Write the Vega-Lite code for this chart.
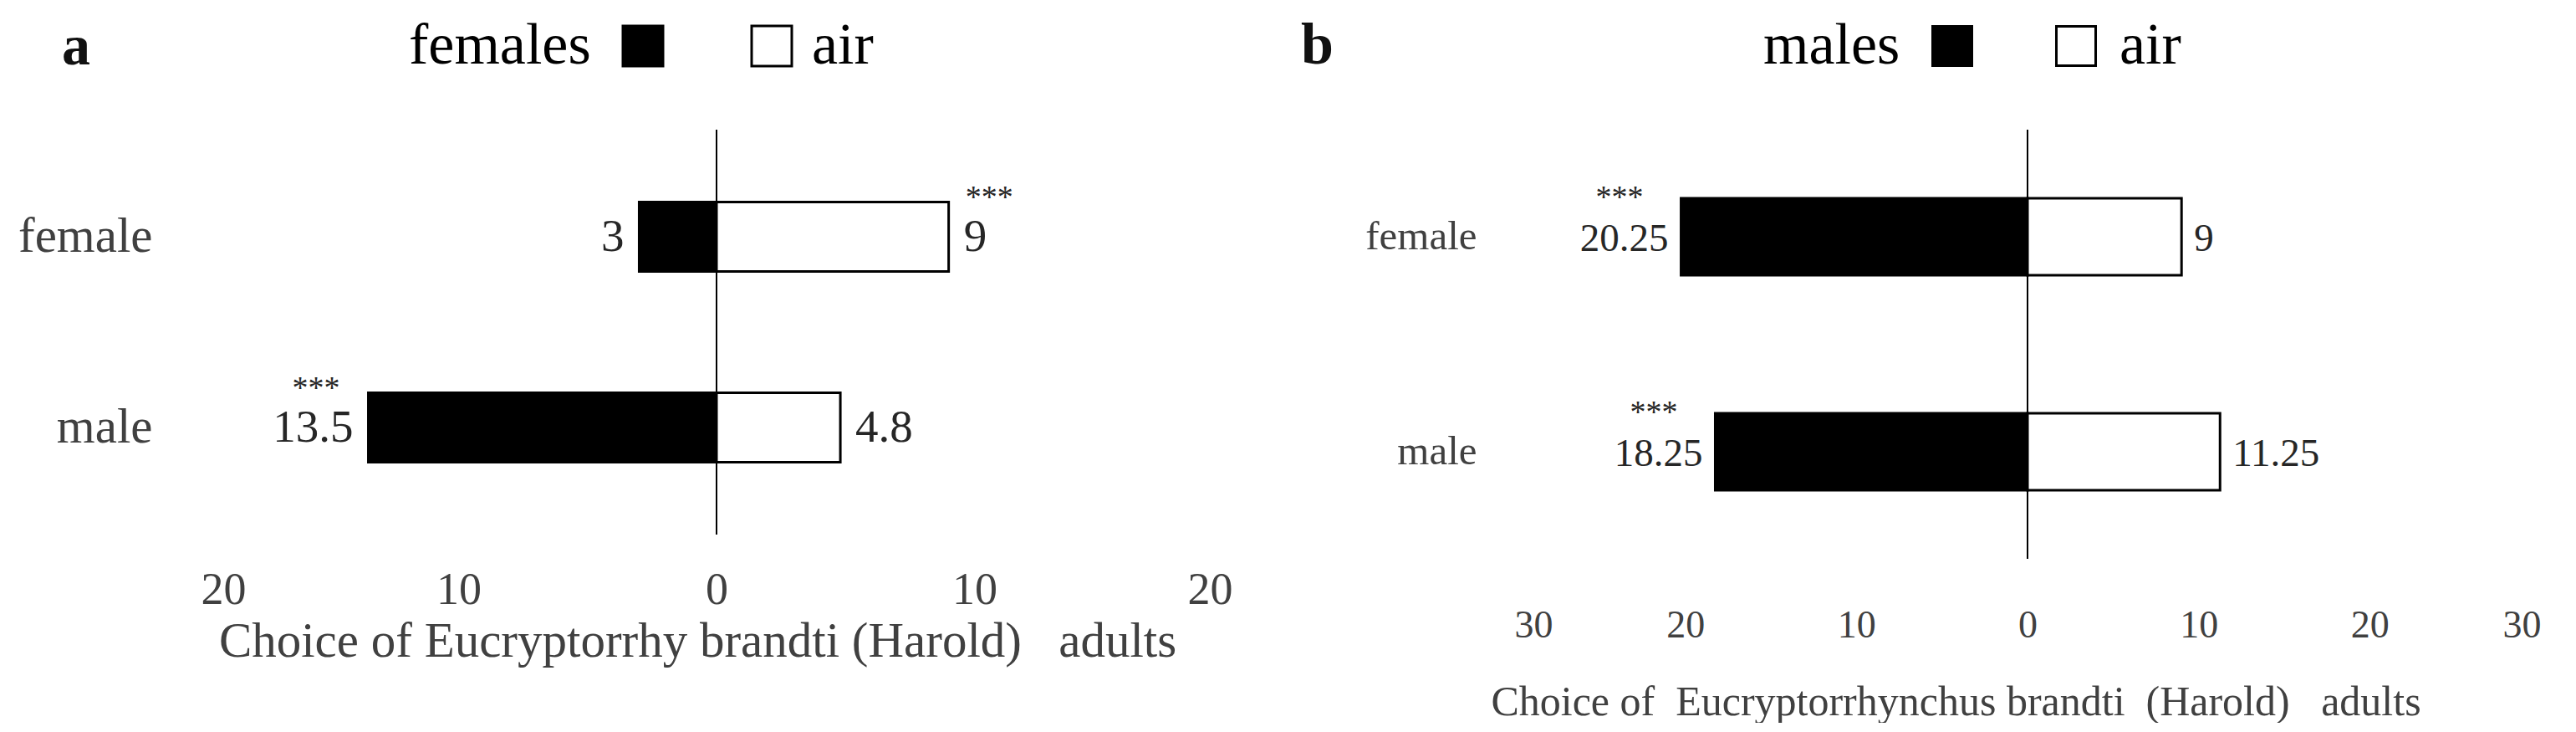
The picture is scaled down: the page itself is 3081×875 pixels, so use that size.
{
  "$schema": "https://vega.github.io/schema/vega-lite/v6.json",
  "background": "white",
  "padding": {"left": 21, "top": 20, "right": 0, "bottom": 0},
  "bounds": "flush",
  "spacing": 337,
  "config": {
    "font": "Liberation Serif",
    "view": {"stroke": null},
    "axis": {"grid": false, "domain": false, "ticks": false, "tickSize": 0, "labelFont": "Liberation Serif", "titleFont": "Liberation Serif", "labelColor": "#404040", "titleColor": "#404040", "titleFontWeight": "normal"},
    "legend": {"labelFont": "Liberation Serif", "titleFont": "Liberation Serif"},
    "title": {"font": "Liberation Serif"}
  },
  "resolve": {"scale": {"fill": "independent", "x": "independent", "y": "independent"}, "legend": {"fill": "independent"}},
  "hconcat": [
    {
      "width": 1234,
      "height": 484,
      "title": {"text": "a", "anchor": "start", "frame": "group", "fontSize": 68, "fontWeight": "bold", "color": "#111", "dx": -166, "offset": -71},
      "data": {"values": [
        {"sex": "female", "side": "females", "value": -3, "label": "3", "sig": ""},
        {"sex": "female", "side": "air", "value": 9, "label": "9", "sig": "***"},
        {"sex": "male", "side": "females", "value": -13.5, "label": "13.5", "sig": "***"},
        {"sex": "male", "side": "air", "value": 4.8, "label": "4.8", "sig": ""}
      ]},
      "layer": [
        {
          "mark": {"type": "bar", "stroke": "#000", "strokeWidth": 3},
          "encoding": {
            "x": {"field": "value", "type": "quantitative", "scale": {"domain": [-20, 20], "nice": false},
                  "axis": {"values": [-20, -10, 0, 10, 20], "labelExpr": "abs(datum.value)", "labelFontSize": 54, "labelPadding": 39,
                           "title": "Choice of Eucryptorrhy brandti (Harold)\u00a0\u00a0\u00a0adults", "titleFontSize": 59, "titlePadding": 5, "titleX": 594}},
            "y": {"field": "sex", "type": "nominal", "sort": ["female", "male"], "scale": {"paddingInner": 0.636, "paddingOuter": 0.379},
                  "axis": {"title": null, "labelFontSize": 59, "labelPadding": 58}},
            "fill": {"field": "side", "type": "nominal", "scale": {"domain": ["females", "air"], "range": ["#000000", "#ffffff"]},
                     "legend": {"orient": "none", "legendX": 249, "legendY": -135, "direction": "horizontal", "title": "females", "titleOrient": "left",
                                "titleFontSize": 70, "titleColor": "#000", "titleFontWeight": "normal", "titlePadding": 27, "titleLimit": 600,
                                "symbolType": "square", "symbolSize": 2304, "symbolStrokeColor": "#000", "symbolStrokeWidth": 3,
                                "labelExpr": "datum.label == 'air' ? 'air' : ''", "labelFontSize": 70, "labelColor": "#000", "labelOffset": 13, "columnPadding": 71}}
          }
        },
        {"mark": {"type": "rule", "color": "#000", "strokeWidth": 2}, "encoding": {"x": {"datum": 0, "type": "quantitative"}}},
        {
          "transform": [{"filter": "datum.side == 'females'"}],
          "mark": {"type": "text", "align": "right", "baseline": "middle", "dx": -18, "fontSize": 55, "color": "#262626"},
          "encoding": {"x": {"field": "value", "type": "quantitative"}, "y": {"field": "sex", "type": "nominal"}, "text": {"field": "label"}}
        },
        {
          "transform": [{"filter": "datum.side == 'air'"}],
          "mark": {"type": "text", "align": "left", "baseline": "middle", "dx": 18, "fontSize": 55, "color": "#262626"},
          "encoding": {"x": {"field": "value", "type": "quantitative"}, "y": {"field": "sex", "type": "nominal"}, "text": {"field": "label"}}
        },
        {
          "transform": [{"filter": "datum.side == 'females'"}],
          "mark": {"type": "text", "align": "right", "baseline": "middle", "dx": -34, "dy": -46, "fontSize": 38, "color": "#262626"},
          "encoding": {"x": {"field": "value", "type": "quantitative"}, "y": {"field": "sex", "type": "nominal"}, "text": {"field": "sig"}}
        },
        {
          "transform": [{"filter": "datum.side == 'air'"}],
          "mark": {"type": "text", "align": "left", "baseline": "middle", "dx": 20, "dy": -46, "fontSize": 38, "color": "#262626"},
          "encoding": {"x": {"field": "value", "type": "quantitative"}, "y": {"field": "sex", "type": "nominal"}, "text": {"field": "sig"}}
        }
      ]
    },
    {
      "width": 1228,
      "height": 513,
      "title": {"text": "b", "anchor": "start", "frame": "group", "fontSize": 70, "fontWeight": "bold", "color": "#111", "dx": -255, "offset": -71},
      "data": {"values": [
        {"sex": "female", "side": "males", "value": -20.25, "label": "20.25", "sig": "***"},
        {"sex": "female", "side": "air", "value": 9, "label": "9", "sig": ""},
        {"sex": "male", "side": "males", "value": -18.25, "label": "18.25", "sig": "***"},
        {"sex": "male", "side": "air", "value": 11.25, "label": "11.25", "sig": ""}
      ]},
      "layer": [
        {
          "mark": {"type": "bar", "stroke": "#000", "strokeWidth": 3},
          "encoding": {
            "x": {"field": "value", "type": "quantitative", "scale": {"domain": [-30, 30], "nice": false},
                  "axis": {"values": [-30, -20, -10, 0, 10, 20, 30], "labelExpr": "abs(datum.value)", "labelFontSize": 46, "labelPadding": 57,
                           "title": "Choice of\u00a0\u00a0Eucryptorrhynchus brandti\u00a0\u00a0(Harold)\u00a0\u00a0\u00a0adults", "titleFontSize": 50, "titlePadding": 44, "titleX": 528}},
            "y": {"field": "sex", "type": "nominal", "sort": ["female", "male"], "scale": {"paddingInner": 0.642, "paddingOuter": 0.319},
                  "axis": {"title": null, "labelFontSize": 49, "labelPadding": 45}},
            "fill": {"field": "side", "type": "nominal", "scale": {"domain": ["males", "air"], "range": ["#000000", "#ffffff"]},
                     "legend": {"orient": "none", "legendX": 298, "legendY": -135, "direction": "horizontal", "title": "males", "titleOrient": "left",
                                "titleFontSize": 70, "titleColor": "#000", "titleFontWeight": "normal", "titlePadding": 27, "titleLimit": 600,
                                "symbolType": "square", "symbolSize": 2209, "symbolStrokeColor": "#000", "symbolStrokeWidth": 3,
                                "labelExpr": "datum.label == 'air' ? 'air' : ''", "labelFontSize": 70, "labelColor": "#000", "labelOffset": 17, "columnPadding": 61}}
          }
        },
        {"mark": {"type": "rule", "color": "#000", "strokeWidth": 2}, "encoding": {"x": {"datum": 0, "type": "quantitative"}}},
        {
          "transform": [{"filter": "datum.side == 'males'"}],
          "mark": {"type": "text", "align": "right", "baseline": "middle", "dx": -15, "dy": 3, "fontSize": 47, "color": "#262626"},
          "encoding": {"x": {"field": "value", "type": "quantitative"}, "y": {"field": "sex", "type": "nominal"}, "text": {"field": "label"}}
        },
        {
          "transform": [{"filter": "datum.side == 'air'"}],
          "mark": {"type": "text", "align": "left", "baseline": "middle", "dx": 15, "dy": 3, "fontSize": 47, "color": "#262626"},
          "encoding": {"x": {"field": "value", "type": "quantitative"}, "y": {"field": "sex", "type": "nominal"}, "text": {"field": "label"}}
        },
        {
          "transform": [{"filter": "datum.side == 'males'"}],
          "mark": {"type": "text", "align": "right", "baseline": "middle", "dx": -45, "dy": -46, "fontSize": 38, "color": "#262626"},
          "encoding": {"x": {"field": "value", "type": "quantitative"}, "y": {"field": "sex", "type": "nominal"}, "text": {"field": "sig"}}
        }
      ]
    }
  ]
}
